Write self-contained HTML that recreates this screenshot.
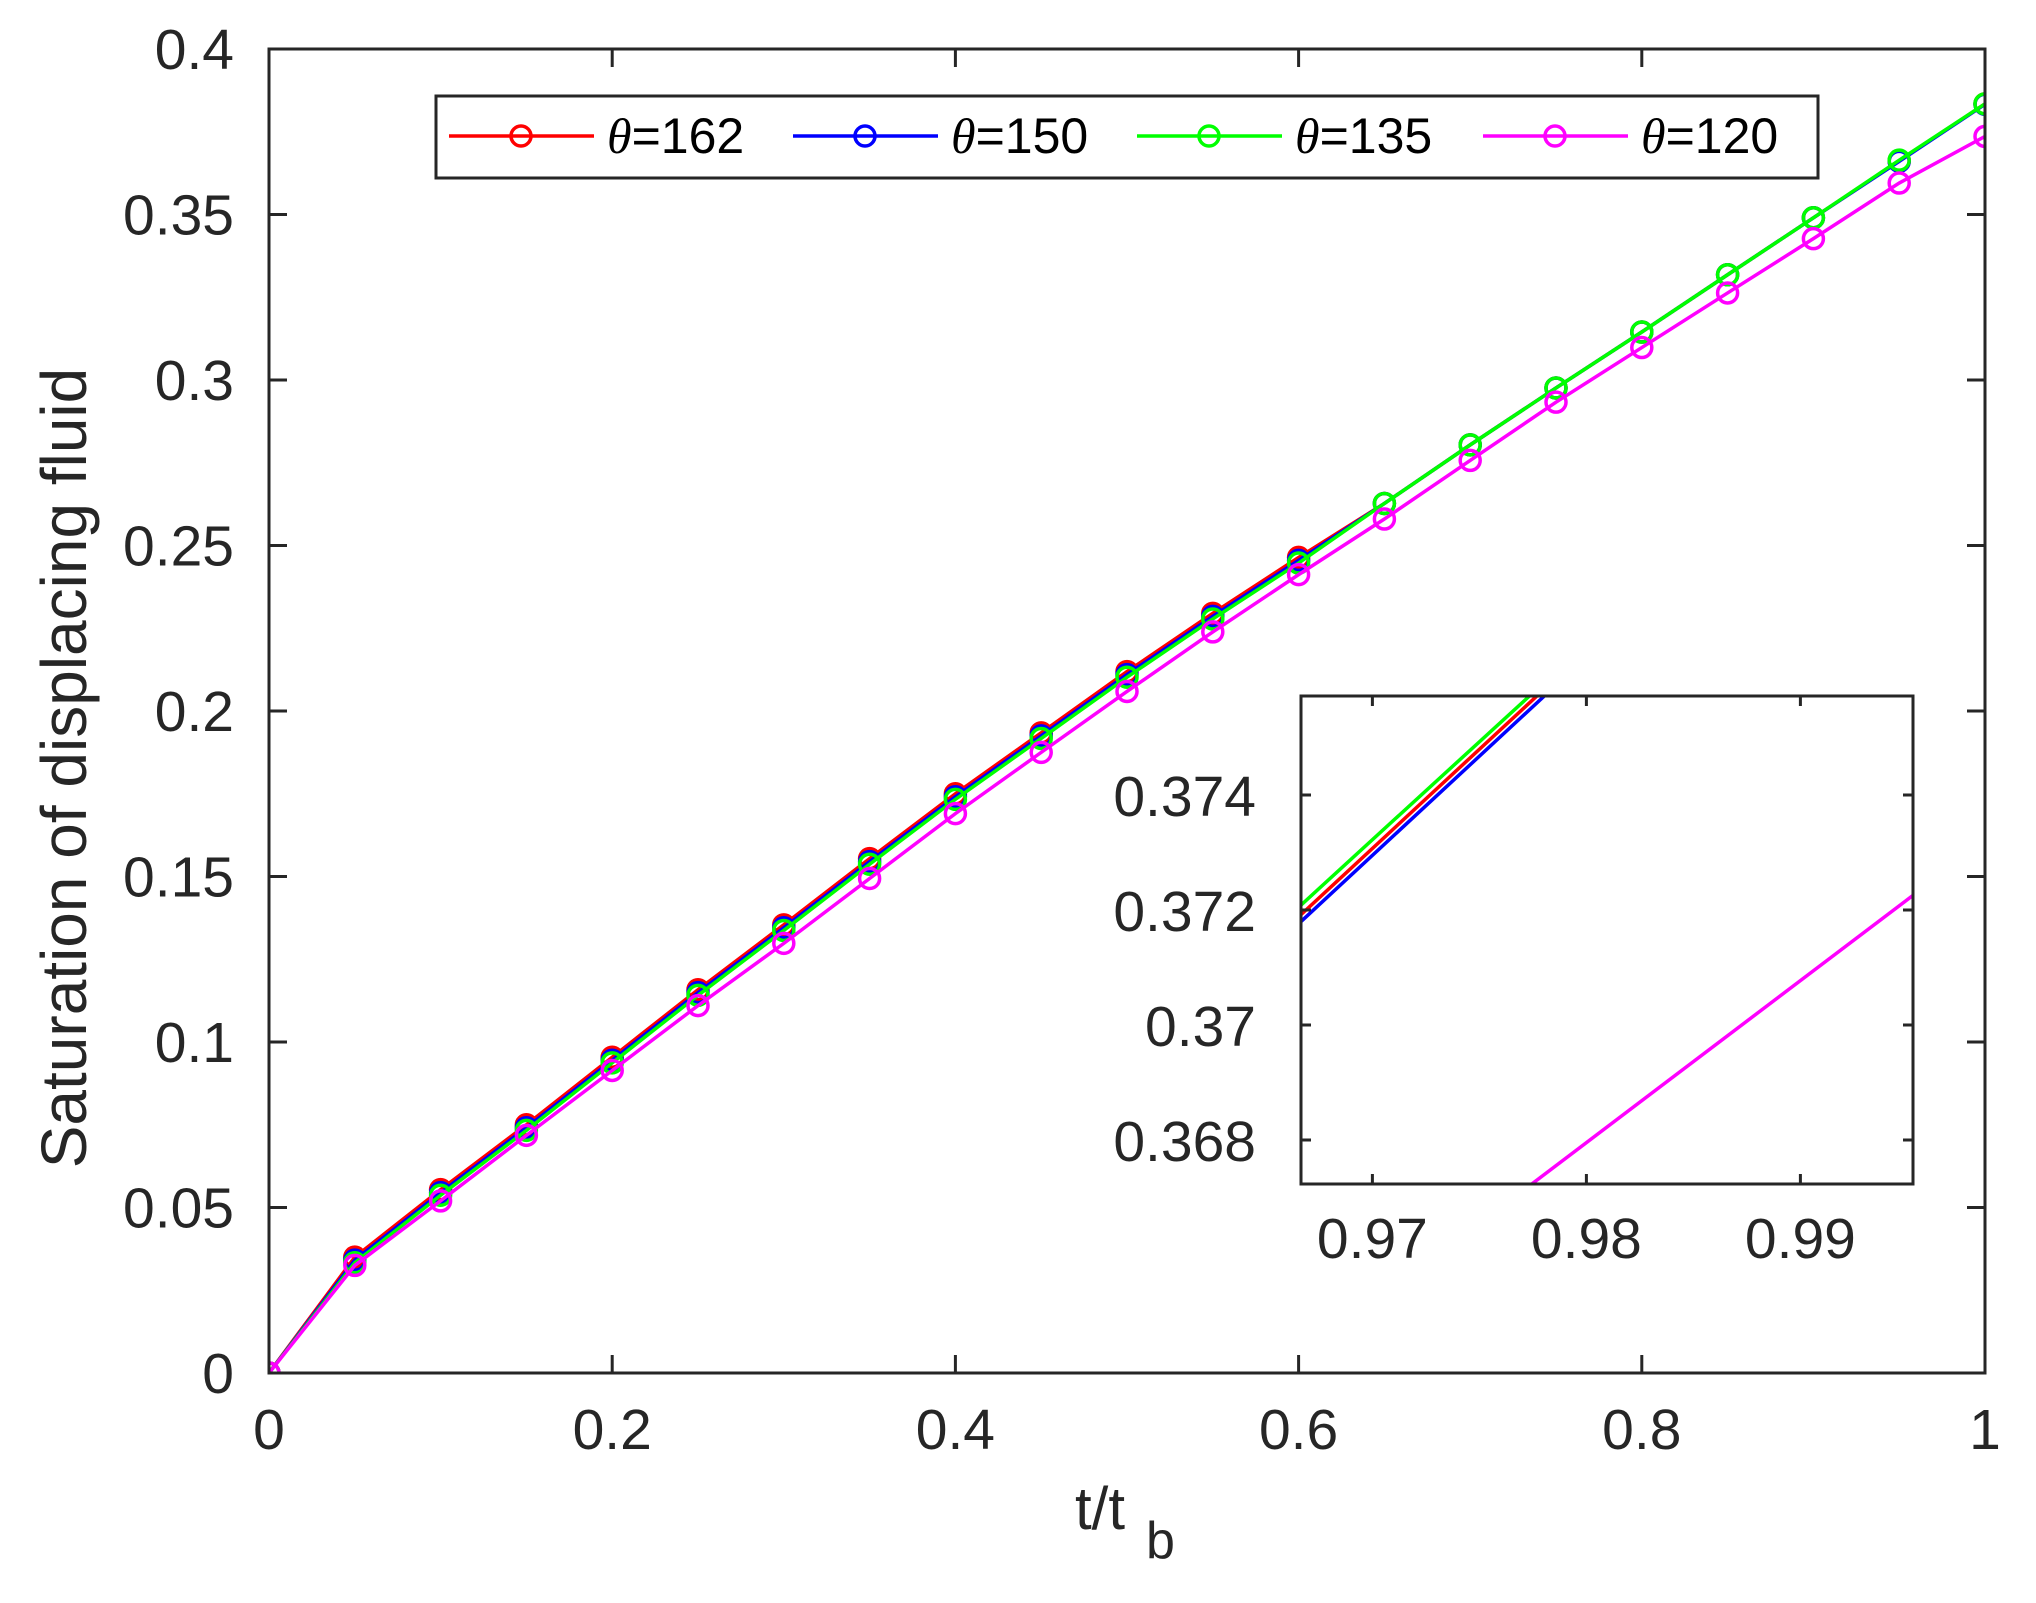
<!DOCTYPE html>
<html><head><meta charset="utf-8"><style>
html,body{margin:0;padding:0;background:#fff}
svg{display:block;font-family:"Liberation Sans",Arial,sans-serif}
</style></head><body>
<svg id="s" width="2036" height="1603" viewBox="0 0 2036 1603" xmlns="http://www.w3.org/2000/svg">
<rect width="2036" height="1603" fill="#fff"/>
<defs><clipPath id="ic"><rect x="1301" y="696" width="612" height="488"/></clipPath>
<clipPath id="mc"><rect x="269" y="49" width="1716" height="1324"/></clipPath></defs>
<g id="main" clip-path="url(#mc)"></g>
<g id="axes"></g>
<rect x="1301" y="696" width="612" height="488" fill="#fff"/>
<g id="inset" clip-path="url(#ic)"></g>
<g id="iaxes"></g>
<text x="0" y="0" transform="translate(86,768) rotate(-90)" font-size="64" fill="#262626" text-anchor="middle">Saturation of displacing fluid</text>
<text x="1075" y="1529" font-size="60" fill="#262626">t/t</text>
<text x="1146" y="1558" font-size="52" fill="#262626">b</text>
<rect x="436" y="96" width="1382" height="82" fill="#fff" stroke="#262626" stroke-width="3"/>
<g id="leg"></g>
</svg>
<script>
var NS="http://www.w3.org/2000/svg";
function el(p,t,a,txt){var e=document.createElementNS(NS,t);for(var k in a)e.setAttribute(k,a[k]);if(txt!==undefined)e.textContent=txt;document.getElementById(p).appendChild(e);return e;}
var top3=[0,0.0341,0.0545,0.0741,0.0945,0.1149,0.1345,0.1545,0.1741,0.1925,0.211,0.2286,0.2455,0.2627,0.2804,0.2976,0.3145,0.3318,0.349,0.3665,0.3834];
var mag=[0,0.0325,0.052,0.0718,0.0914,0.111,0.1298,0.1494,0.169,0.1875,0.2059,0.2239,0.2412,0.258,0.2757,0.2933,0.3098,0.3263,0.3427,0.3595,0.37359];
var series=[
 {c:"#ff0000",d:top3.map(function(v,i){return i==20?0.38342:(i==19?0.36617:v+(i>0&&i<13?0.0009:0));})},
 {c:"#0000ff",d:top3.map(function(v,i){return i==20?0.38330:(i==19?0.36605:v);})},
 {c:"#00ff00",d:top3.map(function(v,i){return i==20?0.38344:(i==19?0.36641:v-(i>0&&i<13?0.0008:0));})},
 {c:"#ff00ff",d:mag}
];
function X(x){return 269+1716*x;} function Y(y){return 1373-3310*y;}
series.forEach(function(s){
 var pts=s.d.map(function(v,i){return X(i*0.05)+","+Y(v);}).join(" ");
 el("main","polyline",{points:pts,fill:"none",stroke:s.c,"stroke-width":3.5});
 s.d.forEach(function(v,i){el("main","circle",{cx:X(i*0.05),cy:Y(v),r:10,fill:"none",stroke:s.c,"stroke-width":3.5});});
});
el("axes","rect",{x:269,y:49,width:1716,height:1324,fill:"none",stroke:"#262626","stroke-width":3});
for(var i=0;i<=5;i++){var x=X(i*0.2);
 el("axes","line",{x1:x,y1:1373,x2:x,y2:1355,stroke:"#262626","stroke-width":3});
 el("axes","line",{x1:x,y1:49,x2:x,y2:67,stroke:"#262626","stroke-width":3});
 el("axes","text",{x:x,y:1449,"font-size":57,fill:"#262626","text-anchor":"middle"},["0","0.2","0.4","0.6","0.8","1"][i]);}
var yl=["0","0.05","0.1","0.15","0.2","0.25","0.3","0.35","0.4"];
for(var i=0;i<=8;i++){var y=Y(i*0.05);
 el("axes","line",{x1:269,y1:y,x2:287,y2:y,stroke:"#262626","stroke-width":3});
 el("axes","line",{x1:1985,y1:y,x2:1967,y2:y,stroke:"#262626","stroke-width":3});
 el("axes","text",{x:234,y:y+20,"font-size":57,fill:"#262626","text-anchor":"end"},yl[i]);}
function IX(x){return 1294.5+(x-0.96636)*21400;} function IY(y){return 1025-(y-0.370)*57500;}
series.forEach(function(s){
 el("inset","line",{x1:IX(0.95),y1:IY(s.d[19]),x2:IX(1),y2:IY(s.d[20]),stroke:s.c,"stroke-width":3.5});
});
el("iaxes","rect",{x:1301,y:696,width:612,height:488,fill:"none",stroke:"#262626","stroke-width":3});
[0.97,0.98,0.99].forEach(function(v){var x=IX(v);
 el("iaxes","line",{x1:x,y1:1184,x2:x,y2:1174,stroke:"#262626","stroke-width":3});
 el("iaxes","line",{x1:x,y1:696,x2:x,y2:706,stroke:"#262626","stroke-width":3});
 el("iaxes","text",{x:x,y:1258,"font-size":57,fill:"#262626","text-anchor":"middle"},v.toFixed(2));});
[[0.374,"0.374"],[0.372,"0.372"],[0.370,"0.37"],[0.368,"0.368"]].forEach(function(a){var y=IY(a[0]);
 el("iaxes","line",{x1:1301,y1:y,x2:1311,y2:y,stroke:"#262626","stroke-width":3});
 el("iaxes","line",{x1:1913,y1:y,x2:1903,y2:y,stroke:"#262626","stroke-width":3});
 el("iaxes","text",{x:1256,y:y+21,"font-size":57,fill:"#262626","text-anchor":"end"},a[1]);});
var lx=[449,793,1137,1483],lab=["162","150","135","120"];
series.forEach(function(s,i){var x=lx[i];
 el("leg","line",{x1:x,y1:136,x2:x+145,y2:136,stroke:s.c,"stroke-width":3.5});
 el("leg","circle",{cx:x+72,cy:136,r:10,fill:"none",stroke:s.c,"stroke-width":3.5});
 var t=el("leg","text",{x:x+158,y:153,"font-size":50,fill:"#000"});
 var a=document.createElementNS(NS,"tspan");a.setAttribute("font-style","italic");a.setAttribute("font-family","\"Liberation Serif\",serif");a.textContent="\u03b8";t.appendChild(a);
 var b=document.createElementNS(NS,"tspan");b.textContent="="+lab[i];t.appendChild(b);
});
</script>
</body></html>
